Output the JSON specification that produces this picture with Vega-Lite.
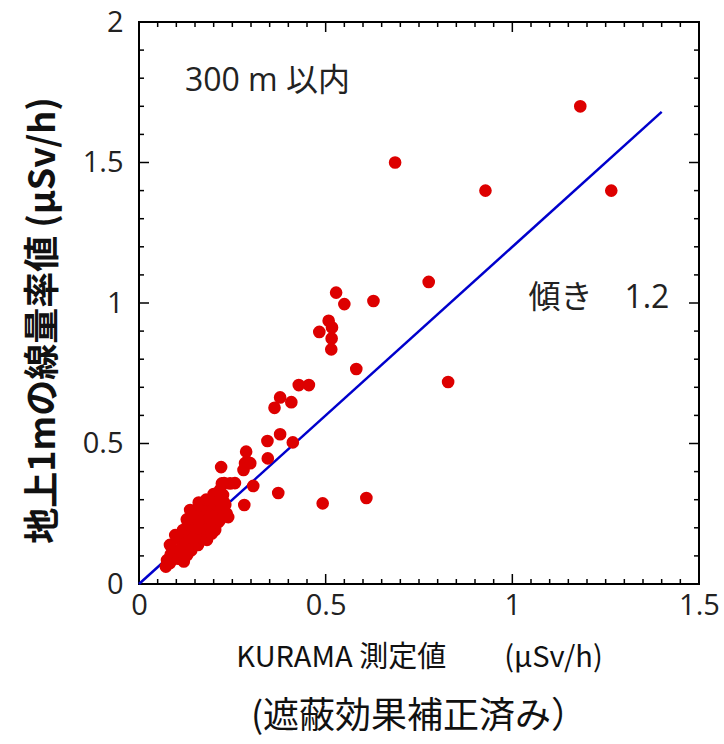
{
  "$schema": "https://vega.github.io/schema/vega-lite/v6.json",
  "autosize": {"type": "none"},
  "width": 560,
  "height": 562,
  "padding": {"left": 139, "top": 22, "right": 25, "bottom": 160},
  "background": "white",
  "config": {
    "view": {"stroke": "black", "strokeWidth": 2},
    "font": "Open Sans, Noto Sans CJK JP",
    "axis": {"grid": false, "labelFont": "Open Sans", "labelColor": "#222", "titleColor": "#111", "labelFlush": false, "labelOverlap": false}
  },
  "title": {"text": "(遮蔽効果補正済み）", "orient": "bottom", "fontSize": 36, "fontWeight": "normal", "font": "Noto Sans CJK JP", "color": "#111", "offset": 28, "anchor": "middle"},
  "datasets": {
    "pts": [
      {"x":0.072,"y":0.062},{"x":0.075,"y":0.085},{"x":0.083,"y":0.075},{"x":0.085,"y":0.105},{"x":0.083,"y":0.139},{"x":0.095,"y":0.12},{"x":0.097,"y":0.174},{"x":0.099,"y":0.11},{"x":0.105,"y":0.09},{"x":0.11,"y":0.157},{"x":0.115,"y":0.13},{"x":0.118,"y":0.192},{"x":0.12,"y":0.08},{"x":0.125,"y":0.145},{"x":0.129,"y":0.103},{"x":0.131,"y":0.21},{"x":0.135,"y":0.17},{"x":0.137,"y":0.263},{"x":0.14,"y":0.12},{"x":0.142,"y":0.228},{"x":0.145,"y":0.19},{"x":0.15,"y":0.174},{"x":0.152,"y":0.25},{"x":0.155,"y":0.21},{"x":0.158,"y":0.139},{"x":0.16,"y":0.29},{"x":0.164,"y":0.246},{"x":0.165,"y":0.19},{"x":0.168,"y":0.22},{"x":0.17,"y":0.27},{"x":0.172,"y":0.16},{"x":0.175,"y":0.24},{"x":0.177,"y":0.281},{"x":0.177,"y":0.21},{"x":0.18,"y":0.3},{"x":0.182,"y":0.157},{"x":0.185,"y":0.26},{"x":0.188,"y":0.2},{"x":0.19,"y":0.299},{"x":0.19,"y":0.235},{"x":0.195,"y":0.18},{"x":0.198,"y":0.263},{"x":0.2,"y":0.32},{"x":0.204,"y":0.317},{"x":0.204,"y":0.192},{"x":0.207,"y":0.25},{"x":0.209,"y":0.281},{"x":0.212,"y":0.22},{"x":0.215,"y":0.3},{"x":0.217,"y":0.335},{"x":0.217,"y":0.228},{"x":0.22,"y":0.27},{"x":0.225,"y":0.317},{"x":0.228,"y":0.29},{"x":0.231,"y":0.281},{"x":0.235,"y":0.25},{"x":0.239,"y":0.238},{"x":0.16,"y":0.2},{"x":0.145,"y":0.16},{"x":0.128,"y":0.23},
      {"x":0.22,"y":0.416},{"x":0.228,"y":0.359},{"x":0.222,"y":0.358},{"x":0.244,"y":0.358},{"x":0.257,"y":0.359},{"x":0.284,"y":0.43},{"x":0.287,"y":0.471},{"x":0.29,"y":0.435},{"x":0.28,"y":0.406},{"x":0.298,"y":0.43},{"x":0.306,"y":0.349},{"x":0.282,"y":0.281},{"x":0.373,"y":0.324},{"x":0.492,"y":0.287},{"x":0.609,"y":0.306},
      {"x":0.345,"y":0.447},{"x":0.344,"y":0.509},{"x":0.378,"y":0.533},{"x":0.412,"y":0.504},{"x":0.363,"y":0.627},{"x":0.378,"y":0.664},{"x":0.408,"y":0.647},{"x":0.428,"y":0.708},{"x":0.455,"y":0.708},{"x":0.582,"y":0.765},{"x":0.515,"y":0.835},{"x":0.516,"y":0.874},{"x":0.483,"y":0.897},{"x":0.508,"y":0.937},{"x":0.517,"y":0.913},{"x":0.528,"y":1.037},{"x":0.55,"y":0.996},{"x":0.628,"y":1.007},{"x":0.776,"y":1.075},{"x":0.828,"y":0.719},{"x":0.686,"y":1.5},{"x":0.928,"y":1.4},{"x":1.265,"y":1.4},{"x":1.182,"y":1.7}
    ],
    "fit": [{"x":0,"y":0},{"x":1.4,"y":1.68}],
    "notes": [{"x":0.123,"y":1.79,"label":"300 m 以内"},{"x":1.043,"y":1.018,"label":"傾き　1.2"}],
    "xminor": [{"v":0.05},{"v":0.1},{"v":0.15},{"v":0.2},{"v":0.25},{"v":0.3},{"v":0.35},{"v":0.4},{"v":0.45},{"v":0.55},{"v":0.6},{"v":0.65},{"v":0.7},{"v":0.75},{"v":0.8},{"v":0.85},{"v":0.9},{"v":0.95},{"v":1.05},{"v":1.1},{"v":1.15},{"v":1.2},{"v":1.25},{"v":1.3},{"v":1.35},{"v":1.4},{"v":1.45}],
    "xmajor": [{"v":0},{"v":0.5},{"v":1},{"v":1.5}],
    "yminor": [{"v":0.1},{"v":0.2},{"v":0.3},{"v":0.4},{"v":0.6},{"v":0.7},{"v":0.8},{"v":0.9},{"v":1.1},{"v":1.2},{"v":1.3},{"v":1.4},{"v":1.6},{"v":1.7},{"v":1.8},{"v":1.9}],
    "ymajor": [{"v":0},{"v":0.5},{"v":1},{"v":1.5},{"v":2}]
  },
  "layer": [
    {
      "data": {"name": "xminor"},
      "mark": {"type": "rule", "color": "black", "strokeWidth": 1.5},
      "encoding": {
        "x": {"field": "v", "type": "quantitative", "axis": null, "scale": {"domain": [0, 1.5], "nice": false, "zero": true}},
        "y": {"datum": 0, "type": "quantitative", "axis": null, "scale": {"domain": [0, 2], "nice": false, "zero": true}},
        "y2": {"datum": 0.0178}
      }
    },
    {
      "data": {"name": "xminor"},
      "mark": {"type": "rule", "color": "black", "strokeWidth": 1.5},
      "encoding": {
        "x": {"field": "v", "type": "quantitative", "axis": null},
        "y": {"datum": 2, "type": "quantitative", "axis": null},
        "y2": {"datum": 1.9822}
      }
    },
    {
      "data": {"name": "xmajor"},
      "mark": {"type": "rule", "color": "black", "strokeWidth": 1.5},
      "encoding": {
        "x": {"field": "v", "type": "quantitative", "axis": null},
        "y": {"datum": 0, "type": "quantitative", "axis": null},
        "y2": {"datum": 0.0356}
      }
    },
    {
      "data": {"name": "xmajor"},
      "mark": {"type": "rule", "color": "black", "strokeWidth": 1.5},
      "encoding": {
        "x": {"field": "v", "type": "quantitative", "axis": null},
        "y": {"datum": 2, "type": "quantitative", "axis": null},
        "y2": {"datum": 1.9644}
      }
    },
    {
      "data": {"name": "yminor"},
      "mark": {"type": "rule", "color": "black", "strokeWidth": 1.5},
      "encoding": {
        "y": {"field": "v", "type": "quantitative", "axis": null},
        "x": {"datum": 0, "type": "quantitative", "axis": null},
        "x2": {"datum": 0.0134}
      }
    },
    {
      "data": {"name": "yminor"},
      "mark": {"type": "rule", "color": "black", "strokeWidth": 1.5},
      "encoding": {
        "y": {"field": "v", "type": "quantitative", "axis": null},
        "x": {"datum": 1.5, "type": "quantitative", "axis": null},
        "x2": {"datum": 1.4866}
      }
    },
    {
      "data": {"name": "ymajor"},
      "mark": {"type": "rule", "color": "black", "strokeWidth": 1.5},
      "encoding": {
        "y": {"field": "v", "type": "quantitative", "axis": null},
        "x": {"datum": 0, "type": "quantitative", "axis": null},
        "x2": {"datum": 0.0268}
      }
    },
    {
      "data": {"name": "ymajor"},
      "mark": {"type": "rule", "color": "black", "strokeWidth": 1.5},
      "encoding": {
        "y": {"field": "v", "type": "quantitative", "axis": null},
        "x": {"datum": 1.5, "type": "quantitative", "axis": null},
        "x2": {"datum": 1.4732}
      }
    },
    {
      "data": {"name": "fit"},
      "mark": {"type": "line", "color": "#0000CC", "strokeWidth": 2.5},
      "encoding": {
        "x": {"field": "x", "type": "quantitative", "axis": null},
        "y": {"field": "y", "type": "quantitative", "axis": null}
      }
    },
    {
      "data": {"name": "pts"},
      "mark": {"type": "circle", "size": 160, "color": "#DD0000", "opacity": 1},
      "encoding": {
        "x": {"field": "x", "type": "quantitative", "scale": {"domain": [0, 1.5], "nice": false, "zero": true},
          "axis": {"orient": "bottom", "title": "KURAMA 測定値　　(μSv/h)", "titleFont": "Noto Sans CJK JP", "titleFontSize": 29, "titleFontWeight": "normal", "titlePadding": 23,
            "tickColor": "black", "tickOpacity": 0, "tickWidth": 2, "tickSize": -5, "domain": false, "format": "~g",
            "values": [0, 0.5, 1, 1.5],
            "labelFontSize": 29, "labelPadding": 12}},
        "y": {"field": "y", "type": "quantitative", "scale": {"domain": [0, 2], "nice": false, "zero": true},
          "axis": {"orient": "left", "title": "地上1mの線量率値 (μSv/h)", "titleFontSize": 36, "titleFontWeight": "bold", "titlePadding": 20, "titleFont": "Noto Sans CJK JP", "titleY": 298,
            "tickColor": "black", "tickOpacity": 0, "tickWidth": 2, "tickSize": -5, "domain": false, "format": "~g",
            "values": [0, 0.5, 1, 1.5, 2],
            "labelFontSize": 29, "labelPadding": 21}}
      }
    },
    {
      "data": {"name": "notes"},
      "mark": {"type": "text", "fontSize": 32, "align": "left", "baseline": "middle", "color": "#222", "font": "Open Sans, Noto Sans CJK JP"},
      "encoding": {
        "x": {"field": "x", "type": "quantitative", "axis": null},
        "y": {"field": "y", "type": "quantitative", "axis": null},
        "text": {"field": "label"}
      }
    }
  ],
  "resolve": {"axis": {"x": "independent", "y": "independent"}}
}
